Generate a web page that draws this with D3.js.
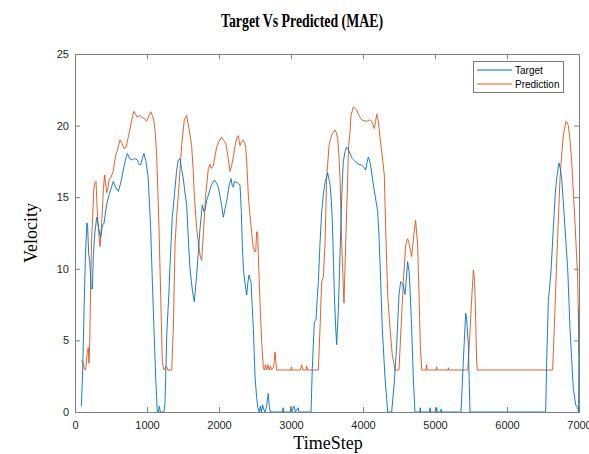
<!DOCTYPE html>
<html><head><meta charset="utf-8">
<script src="https://cdn.jsdelivr.net/npm/d3@7"></script>
<style>body{margin:0;background:#fff}</style>
</head><body>
<svg id="chart" width="589" height="454"></svg>
<script>
const xTicks = [0,1000,2000,3000,4000,5000,6000,7000];
const yTicks = [0,5,10,15,20,25];
const seriesNames = ["Target","Prediction"];

const targetTime = [88,105,125,145,165,175,190,205,225,241,255,275,301,330,357,380,403,440,472,500,532,565,602,635,671,700,727,760,796,830,866,890,912,935,958,985,1014,1035,1051,1075,1097,1120,1143,1160,1171,1185,1235,1250,1275,1306,1320,1350,1389,1410,1435,1458,1480,1504,1530,1551,1575,1597,1630,1657,1690,1736,1768,1790,1806,1830,1852,1890,1935,1965,1991,2030,2060,2085,2106,2140,2167,2185,2199,2215,2232,2260,2292,2310,2325,2338,2360,2385,2400,2417,2430,2444,2460,2477,2500,2523,2540,2560,2575,2590,2605,2620,2640,2660,2685,2700,2715,2880,2890,2900,2990,3000,3010,3040,3050,3060,3100,3110,3278,3296,3324,3347,3365,3380,3400,3426,3450,3472,3509,3542,3560,3574,3590,3602,3620,3634,3657,3675,3694,3710,3727,3750,3773,3790,3819,3850,3889,3940,3981,4010,4037,4055,4074,4090,4111,4140,4167,4204,4220,4236,4268,4306,4343,4398,4435,4468,4500,4523,4545,4560,4583,4605,4620,4640,4653,4676,4699,4722,4790,4795,4800,4925,4931,4940,5015,5023,5030,5080,5085,5090,5361,5393,5426,5440,5463,5486,6537,6551,6574,6611,6643,6670,6690,6722,6740,6759,6780,6806,6843,6875,6900,6921,6954,6981,6995,7000];
const target = [0.4,2.5,7,11,13.2,13.0,11,10.5,8.6,8.6,11,12.5,13.6,12.8,12.2,13,13.2,14.5,15.15,15.6,16.1,15.7,15.4,16,16.9,17.6,18.06,17.7,17.6,17.7,17.6,17.3,17.25,17.7,18.06,17.5,16.5,14.5,12.8,9,5.8,2.5,0,0,0.4,0,0,0.6,5.5,8.5,10.3,13.5,15.6,16.8,17.6,17.7,17.0,16.3,15.2,14.45,12,10.05,8.5,7.7,9.57,12.8,14.45,14.0,14.1,14.8,15.15,15.8,16.2,16.0,15.7,14.6,13.6,14.2,14.7,15.8,16.3,15.8,15.7,16.1,16.05,16.0,15.85,14,11.5,10.03,9,8.17,9,9.57,9.3,9.1,7.5,5.85,2.5,1.0,0.3,0,0.4,0,0.5,0.2,0,0.4,1.3,0.3,0,0,0.3,0,0,0.4,0,0.4,0.3,0,0.3,0,0,3.05,6.3,6.4,8,9.1,11.5,14.0,15.2,16.0,16.7,15.9,14.8,13.3,10.5,8.2,6,4.7,7.0,10,13.3,15.8,17.5,18.2,18.5,18.4,18.06,17.7,17.5,17.3,17.25,17.1,16.9,17.4,17.8,17.6,17.05,16,15.15,14.0,12.5,10.5,5.85,2.35,0,0,2.1,4.7,8.17,9.1,9.0,8.8,8.2,9.5,10.5,9.8,8.64,5.85,2.35,0,0,0.3,0,0,0.3,0,0,0.3,0,0,0.2,0,0,3.5,6.9,6.5,4.7,0,0,3.5,7.7,9.8,12.8,15.2,16.3,17.4,17.0,16.3,14.8,12.8,10.0,5.85,3.5,1.65,0.5,0.3,0,7.3];

const predTime = [88,110,130,148,171,185,195,205,215,230,245,260,275,292,305,319,335,347,365,380,395,412,425,440,455,472,500,530,565,590,625,650,681,710,740,773,800,819,840,866,900,935,965,995,1020,1051,1075,1097,1115,1134,1150,1167,1190,1213,1236,1250,1270,1290,1343,1366,1389,1410,1435,1460,1481,1518,1551,1583,1620,1640,1657,1690,1736,1759,1782,1815,1852,1875,1890,1921,1945,1968,2000,2037,2060,2093,2125,2153,2175,2199,2220,2245,2269,2280,2292,2315,2338,2355,2371,2390,2407,2425,2444,2460,2477,2495,2510,2523,2537,2546,2569,2593,2616,2630,2645,2660,2680,2695,2715,2730,2760,2778,2790,2801,3000,3005,3010,3130,3148,3165,3210,3218,3230,3380,3403,3426,3449,3472,3495,3528,3550,3574,3611,3630,3648,3665,3681,3700,3713,3736,3759,3787,3800,3819,3833,3865,3890,3912,3945,3981,4010,4051,4090,4120,4157,4175,4190,4213,4235,4259,4280,4296,4315,4343,4375,4407,4444,4500,4528,4560,4593,4620,4635,4653,4676,4704,4731,4759,4778,4796,4815,4875,4884,4890,5015,5023,5030,5180,5185,5190,5454,5480,5500,5532,5545,5556,5579,5588,6634,6657,6690,6736,6760,6782,6819,6835,6852,6875,6898,6920,6944,6982,7000];
const prediction = [3.63,3.5,3.0,2.93,4.2,4.5,3.4,5,8,12,13.5,15.5,16.0,16.1,14.5,13.3,12.2,11.55,12.8,14.1,15.6,16.55,16.0,15.3,15.6,16.2,16.4,16.8,17.95,18.3,19.0,18.8,18.4,18.5,19.2,20.0,20.7,21.0,20.8,20.6,20.7,20.55,20.5,20.3,20.6,20.97,20.7,20.3,19.5,17.95,15.5,12.8,8.17,3.5,2.93,3.05,3.2,2.93,2.93,5.85,11.66,13.5,15.15,17,18.6,20.4,20.7,19.8,18.6,17,15.15,12.8,10.96,10.6,12.4,15.15,17.0,17.3,17.0,17.2,17.9,18.5,18.9,19.2,19.0,18.8,17.8,16.8,17.2,17.8,18.5,19.1,19.3,18.9,18.6,18.9,19.0,18.8,18.5,17,15.15,14,13.06,12.2,11.43,11.2,11.2,12.6,12.5,11.0,7.7,4.9,3.05,2.93,3.3,2.93,3.3,2.93,3.2,2.93,3.2,4.2,3.5,2.93,2.93,3.15,2.93,2.93,3.3,2.93,2.93,3.2,2.93,2.93,5.85,9.1,9.4,11.66,16.3,18.6,19.1,19.45,19.7,19.5,19.1,18,16.3,12.5,10.5,7.6,11.66,16.3,18.6,19.5,20.7,21.3,21.2,21.1,20.7,20.4,20.35,20.3,20.4,20.3,19.8,20.3,20.8,20.3,19.2,18.2,17.3,16.55,12.8,8.17,5.85,3.98,2.93,2.93,5.85,9.1,11.66,12.1,11.9,11.43,10.85,12.3,13.4,11.66,8.17,4.7,2.93,2.93,3.3,2.93,2.93,3.15,2.93,2.93,3.1,2.93,2.93,5,7.0,9.9,9.5,8.2,3.5,2.93,2.93,5.85,10.5,16.3,18,19.3,20.3,20.2,20.0,19,17.5,15.5,13.3,9.3,4];

const colors = ["#0072BD", "#D95319"];
const svg = d3.select("#chart");
const m = {left:75, top:54, right:10, bottom:42};
const W = 589, H = 454;
const iw = 504, ih = 358;
const x = d3.scaleLinear().domain([0,7000]).range([m.left, m.left+iw]);
const y = d3.scaleLinear().domain([0,25]).range([m.top+ih, m.top]);

const axisColor = "#808080";
const labelColor = "#262626";

svg.append("rect").attr("x",0).attr("y",0).attr("width",W).attr("height",H).attr("fill","#fff");

svg.append("clipPath").attr("id","clip").append("rect")
  .attr("x", m.left).attr("y", m.top).attr("width", iw+1).attr("height", ih+1);

const line = d3.line().x(d=>x(d[0])).y(d=>y(d[1]));
const tgtData = targetTime.map((t,i)=>[t,target[i]]);
const prdData = predTime.map((t,i)=>[t,prediction[i]]);

const g = svg.append("g").attr("clip-path","url(#clip)");
g.append("path").datum(prdData).attr("d", line).attr("fill","none").attr("stroke",colors[1]).attr("stroke-width",0.9).attr("stroke-linejoin","round");
g.append("path").datum(tgtData).attr("d", line).attr("fill","none").attr("stroke",colors[0]).attr("stroke-width",0.9).attr("stroke-linejoin","round");

function styleAxis(sel){
  sel.selectAll(".domain").attr("stroke", axisColor);
  sel.selectAll(".tick line").attr("stroke", axisColor);
  sel.selectAll(".tick text").attr("fill", labelColor).attr("font-family","'Liberation Sans', Arial, sans-serif").attr("font-size","11px");
}
const xa = svg.append("g").attr("transform",`translate(0,${m.top+ih})`)
  .call(d3.axisBottom(x).tickValues(xTicks).tickSizeInner(-5).tickSizeOuter(0).tickPadding(9).tickFormat(d3.format("d")));
styleAxis(xa);
const xt = svg.append("g").attr("transform",`translate(0,${m.top})`)
  .call(d3.axisTop(x).tickValues(xTicks).tickSizeInner(-5).tickSizeOuter(0).tickFormat(""));
styleAxis(xt);
const ya = svg.append("g").attr("transform",`translate(${m.left},0)`)
  .call(d3.axisLeft(y).tickValues(yTicks).tickSizeInner(-5).tickSizeOuter(0).tickPadding(6));
styleAxis(ya);
const yr = svg.append("g").attr("transform",`translate(${m.left+iw},0)`)
  .call(d3.axisRight(y).tickValues(yTicks).tickSizeInner(-5).tickSizeOuter(0).tickFormat(""));
styleAxis(yr);

// title
svg.append("text").attr("x", 302).attr("y", 26.5).attr("text-anchor","middle")
  .attr("font-family","'Liberation Serif','Times New Roman',serif").attr("font-weight","bold")
  .attr("font-size","18.5px").attr("textLength",162).attr("lengthAdjust","spacingAndGlyphs")
  .attr("fill","#000").text("Target Vs Predicted (MAE)");

svg.append("text").attr("x", 328).attr("y", 449).attr("text-anchor","middle")
  .attr("font-family","'Liberation Serif','Times New Roman',serif").attr("font-size","18px")
  .attr("fill","#000").text("TimeStep");

svg.append("text").attr("transform","translate(37,233) rotate(-90)").attr("text-anchor","middle")
  .attr("font-family","'Liberation Serif','Times New Roman',serif").attr("font-size","18px")
  .attr("fill","#000").text("Velocity");

// legend
const lg = svg.append("g");
lg.append("rect").attr("x",473.5).attr("y",61.5).attr("width",90).attr("height",31)
  .attr("fill","#fff").attr("stroke","#7a7a7a").attr("stroke-width",1);
seriesNames.forEach((name,i)=>{
  const yy = 70 + i*14;
  lg.append("line").attr("x1",477).attr("x2",512).attr("y1",yy).attr("y2",yy)
    .attr("stroke",colors[i]).attr("stroke-width",1);
  lg.append("text").attr("x",515).attr("y",yy+3.5).attr("font-family","'Liberation Sans', Arial, sans-serif")
    .attr("font-size","10px").attr("fill","#000").text(name);
});
</script>
</body></html>
